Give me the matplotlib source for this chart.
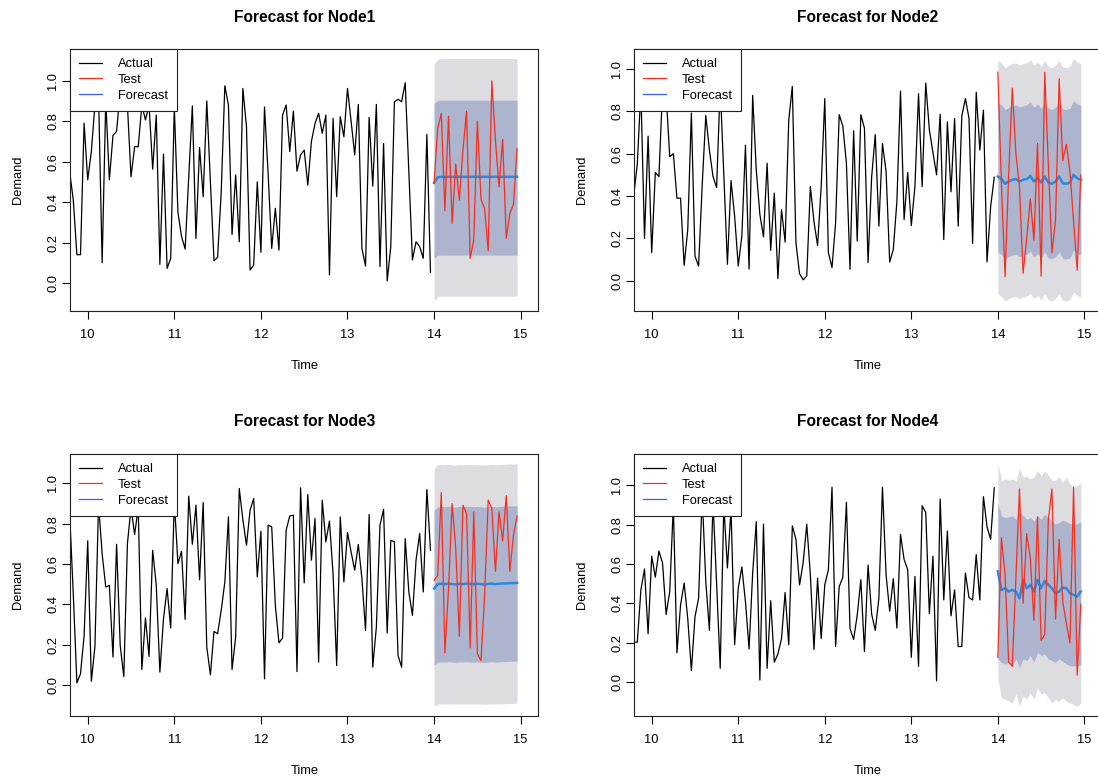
import numpy as np
import matplotlib
matplotlib.use("Agg")
import matplotlib.pyplot as plt
from matplotlib.lines import Line2D

plt.rcParams['font.family'] = ['Liberation Sans', 'DejaVu Sans']

# hourly-style series: 24 observations per time unit
freq = 24
hist_start = 10 - 5 / 24
test_start = 14

# ---- Node1 ----
node1_actual = [0.55, 0.41, 0.14, 0.14, 0.79, 0.51, 0.65, 0.88, 0.93, 0.10,
                0.90, 0.51, 0.73, 0.75, 0.95, 0.90, 0.88, 0.525, 0.674, 0.674,
                0.88, 0.806, 0.88, 0.563, 0.83, 0.092, 0.637, 0.072, 0.122, 0.87,
                0.35, 0.23, 0.168, 0.525, 0.876, 0.22, 0.67, 0.427, 0.90, 0.50,
                0.11, 0.127, 0.45, 0.975, 0.88, 0.24, 0.534, 0.204, 0.962, 0.773,
                0.064, 0.089, 0.50, 0.152, 0.87, 0.54, 0.171, 0.37, 0.163, 0.83,
                0.88, 0.65, 0.85, 0.553, 0.633, 0.657, 0.484, 0.70, 0.789, 0.839,
                0.74, 0.83, 0.04, 0.814, 0.427, 0.822, 0.723, 0.962, 0.80, 0.633,
                0.883, 0.171, 0.084, 0.819, 0.479, 0.883, 0.081, 0.69, 0.01, 0.18,
                0.896, 0.908, 0.896, 0.99, 0.55, 0.114, 0.204, 0.18, 0.122, 0.735,
                0.053]
node1_test = [0.493, 0.764, 0.839, 0.357, 0.825, 0.295, 0.588, 0.41, 0.657, 0.85,
              0.122, 0.213, 0.80, 0.413, 0.369, 0.16, 1.0, 0.707, 0.476, 0.71,
              0.221, 0.344, 0.389, 0.666]
node1_fc = [0.495, 0.523, 0.525, 0.524, 0.525, 0.525, 0.525, 0.525, 0.525, 0.525,
            0.525, 0.525, 0.525, 0.525, 0.525, 0.525, 0.525, 0.525, 0.525, 0.525,
            0.525, 0.525, 0.525, 0.525]
node1_lo95 = [-0.089, -0.066, -0.065, -0.066, -0.065, -0.065, -0.065, -0.065, -0.065, -0.065,
              -0.065, -0.065, -0.065, -0.065, -0.065, -0.065, -0.065, -0.065, -0.065, -0.065,
              -0.065, -0.065, -0.065, -0.065]
node1_lo80 = [0.122, 0.137, 0.138, 0.138, 0.138, 0.138, 0.138, 0.138, 0.138, 0.138,
              0.138, 0.138, 0.138, 0.138, 0.138, 0.138, 0.138, 0.138, 0.138, 0.138,
              0.138, 0.138, 0.138, 0.138]
node1_hi80 = [0.888, 0.903, 0.904, 0.904, 0.904, 0.904, 0.904, 0.904, 0.904, 0.904,
              0.904, 0.904, 0.904, 0.904, 0.904, 0.904, 0.904, 0.904, 0.904, 0.904,
              0.904, 0.904, 0.904, 0.904]
node1_hi95 = [1.082, 1.108, 1.109, 1.109, 1.109, 1.109, 1.109, 1.109, 1.109, 1.109,
              1.109, 1.109, 1.109, 1.109, 1.109, 1.109, 1.109, 1.109, 1.109, 1.109,
              1.109, 1.109, 1.109, 1.109]

# ---- Node2 ----
node2_actual = [0.40, 0.55, 0.90, 0.20, 0.683, 0.133, 0.511, 0.492, 0.90, 0.88,
                0.586, 0.60, 0.39, 0.39, 0.073, 0.242, 0.792, 0.117, 0.07, 0.45,
                0.78, 0.617, 0.492, 0.44, 0.92, 0.50, 0.078, 0.473, 0.305, 0.07,
                0.211, 0.64, 0.055, 0.875, 0.523, 0.313, 0.208, 0.555, 0.144, 0.414,
                0.011, 0.336, 0.183, 0.758, 0.917, 0.18, 0.034, 0.005, 0.023, 0.445,
                0.28, 0.167, 0.445, 0.86, 0.133, 0.063, 0.273, 0.784, 0.73, 0.555,
                0.055, 0.708, 0.188, 0.784, 0.72, 0.086, 0.49, 0.69, 0.258, 0.648,
                0.516, 0.089, 0.148, 0.375, 0.895, 0.289, 0.511, 0.261, 0.445, 0.883,
                0.445, 0.933, 0.714, 0.605, 0.50, 0.786, 0.195, 0.75, 0.42, 0.766,
                0.258, 0.777, 0.86, 0.766, 0.177, 0.89, 0.617, 0.805, 0.089, 0.35,
                0.489]
node2_test = [0.984, 0.45, 0.02, 0.5, 0.909, 0.60, 0.445, 0.036, 0.2, 0.386,
              0.192, 0.648, 0.023, 0.984, 0.547, 0.133, 0.289, 0.953, 0.567, 0.644,
              0.516, 0.281, 0.05, 0.50]
node2_fc = [0.492, 0.480, 0.458, 0.469, 0.477, 0.480, 0.469, 0.477, 0.480, 0.495,
            0.469, 0.484, 0.464, 0.492, 0.464, 0.458, 0.469, 0.492, 0.461, 0.458,
            0.464, 0.500, 0.484, 0.477]
node2_lo95 = [-0.061, -0.073, -0.095, -0.084, -0.076, -0.073, -0.084, -0.076, -0.073, -0.058,
              -0.084, -0.069, -0.089, -0.061, -0.089, -0.095, -0.084, -0.061, -0.092, -0.095,
              -0.089, -0.053, -0.069, -0.076]
node2_lo80 = [0.137, 0.125, 0.103, 0.114, 0.122, 0.125, 0.114, 0.122, 0.125, 0.140,
              0.114, 0.129, 0.109, 0.137, 0.109, 0.103, 0.114, 0.137, 0.106, 0.103,
              0.109, 0.145, 0.129, 0.122]
node2_hi80 = [0.842, 0.830, 0.808, 0.819, 0.827, 0.830, 0.819, 0.827, 0.830, 0.845,
              0.819, 0.834, 0.814, 0.842, 0.814, 0.808, 0.819, 0.842, 0.811, 0.808,
              0.814, 0.850, 0.834, 0.827]
node2_hi95 = [1.040, 1.028, 1.006, 1.017, 1.025, 1.028, 1.017, 1.025, 1.028, 1.043,
              1.017, 1.032, 1.012, 1.040, 1.012, 1.006, 1.017, 1.040, 1.009, 1.006,
              1.012, 1.048, 1.032, 1.025]

# ---- Node3 ----
node3_actual = [0.85, 0.45, 0.01, 0.055, 0.245, 0.715, 0.018, 0.19, 0.90, 0.65,
                0.486, 0.494, 0.138, 0.698, 0.196, 0.041, 0.70, 0.88, 0.746, 0.88,
                0.076, 0.332, 0.141, 0.668, 0.494, 0.063, 0.328, 0.478, 0.282, 0.914,
                0.602, 0.663, 0.325, 0.937, 0.698, 0.892, 0.522, 0.905, 0.187, 0.05,
                0.265, 0.254, 0.37, 0.51, 0.834, 0.076, 0.237, 0.975, 0.82, 0.693,
                0.867, 0.925, 0.536, 0.763, 0.03, 0.793, 0.784, 0.395, 0.209, 0.232,
                0.768, 0.839, 0.842, 0.066, 0.978, 0.506, 0.945, 0.619, 0.826, 0.113,
                0.917, 0.71, 0.813, 0.55, 0.096, 0.834, 0.511, 0.756, 0.66, 0.569,
                0.697, 0.527, 0.27, 0.846, 0.088, 0.287, 0.793, 0.871, 0.257, 0.718,
                0.71, 0.146, 0.088, 0.726, 0.461, 0.345, 0.619, 0.751, 0.461, 0.97,
                0.668]
node3_test = [0.519, 0.544, 0.955, 0.159, 0.478, 0.90, 0.677, 0.242, 0.892, 0.851,
              0.184, 0.859, 0.154, 0.121, 0.444, 0.917, 0.876, 0.564, 0.859, 0.715,
              0.939, 0.564, 0.743, 0.839]
node3_fc = [0.478, 0.500, 0.502, 0.500, 0.503, 0.500, 0.499, 0.502, 0.500, 0.503,
            0.501, 0.500, 0.502, 0.500, 0.498, 0.501, 0.503, 0.500, 0.502, 0.503,
            0.504, 0.505, 0.505, 0.506]
node3_lo95 = [-0.105, -0.095, -0.094, -0.095, -0.094, -0.095, -0.096, -0.094, -0.095, -0.094,
              -0.095, -0.095, -0.094, -0.095, -0.097, -0.095, -0.094, -0.095, -0.094, -0.094,
              -0.093, -0.092, -0.092, -0.091]
node3_lo80 = [0.096, 0.113, 0.114, 0.113, 0.115, 0.113, 0.112, 0.114, 0.113, 0.115,
              0.113, 0.113, 0.114, 0.113, 0.111, 0.113, 0.115, 0.113, 0.114, 0.115,
              0.116, 0.117, 0.117, 0.118]
node3_hi80 = [0.866, 0.884, 0.886, 0.884, 0.887, 0.884, 0.883, 0.886, 0.884, 0.887,
              0.885, 0.884, 0.886, 0.884, 0.882, 0.885, 0.887, 0.884, 0.886, 0.887,
              0.888, 0.889, 0.889, 0.890]
node3_hi95 = [1.072, 1.092, 1.094, 1.092, 1.095, 1.092, 1.091, 1.094, 1.092, 1.095,
              1.093, 1.092, 1.094, 1.092, 1.090, 1.093, 1.095, 1.092, 1.094, 1.095,
              1.096, 1.097, 1.097, 1.098]

# ---- Node4 ----
node4_actual = [0.202, 0.202, 0.468, 0.575, 0.245, 0.64, 0.533, 0.666, 0.606, 0.343,
                0.46, 0.90, 0.148, 0.391, 0.503, 0.322, 0.057, 0.331, 0.425, 0.95,
                0.511, 0.262, 0.92, 0.50, 0.069, 0.90, 0.58, 0.88, 0.189, 0.477,
                0.585, 0.408, 0.168, 0.554, 0.816, 0.009, 0.803, 0.069, 0.413, 0.10,
                0.142, 0.22, 0.455, 0.189, 0.794, 0.726, 0.494, 0.606, 0.803, 0.545,
                0.165, 0.528, 0.22, 0.494, 0.571, 0.991, 0.18, 0.485, 0.532, 0.914,
                0.271, 0.216, 0.34, 0.52, 0.154, 0.595, 0.345, 0.262, 0.425, 0.991,
                0.545, 0.36, 0.525, 0.274, 0.751, 0.623, 0.571, 0.125, 0.537, 0.079,
                0.897, 0.863, 0.348, 0.64, 0.005, 0.931, 0.417, 0.768, 0.336, 0.468,
                0.18, 0.18, 0.554, 0.429, 0.417, 0.648, 0.417, 0.943, 0.789, 0.726,
                0.988]
node4_test = [0.125, 0.734, 0.545, 0.10, 0.079, 0.528, 0.983, 0.40, 0.755, 0.631,
              0.314, 0.84, 0.211, 0.24, 0.823, 0.983, 0.319, 0.726, 0.408, 0.297,
              0.199, 0.991, 0.034, 0.395]
node4_fc = [0.563, 0.468, 0.477, 0.46, 0.468, 0.46, 0.425, 0.52, 0.477, 0.494,
            0.46, 0.52, 0.477, 0.514, 0.494, 0.477, 0.451, 0.46, 0.48, 0.477,
            0.451, 0.443, 0.434, 0.46]
node4_lo95 = [0.014, -0.081, -0.089, -0.098, -0.106, -0.063, -0.123, -0.072, -0.089, -0.055,
              -0.089, -0.029, -0.063, -0.055, -0.081, -0.106, -0.089, -0.098, -0.081, -0.098,
              -0.106, -0.115, -0.123, -0.106]
node4_lo80 = [0.117, 0.099, 0.091, 0.099, 0.082, 0.117, 0.074, 0.117, 0.108, 0.134,
              0.099, 0.151, 0.134, 0.142, 0.117, 0.108, 0.099, 0.117, 0.103, 0.091,
              0.082, 0.082, 0.082, 0.086]
node4_hi80 = [0.906, 0.846, 0.837, 0.84, 0.846, 0.828, 0.863, 0.846, 0.828, 0.837,
              0.82, 0.846, 0.828, 0.854, 0.837, 0.82, 0.803, 0.811, 0.823, 0.816,
              0.806, 0.803, 0.806, 0.816]
node4_hi95 = [1.111, 1.026, 1.034, 1.026, 1.034, 1.022, 1.086, 1.043, 1.046, 1.034,
              1.043, 1.077, 1.051, 1.074, 1.051, 1.026, 1.026, 1.043, 1.017, 1.043,
              1.009, 0.991, 1.0, 1.012]

nodes = [
    ("Node1", node1_actual, node1_test, node1_fc, node1_lo95, node1_lo80, node1_hi80, node1_hi95),
    ("Node2", node2_actual, node2_test, node2_fc, node2_lo95, node2_lo80, node2_hi80, node2_hi95),
    ("Node3", node3_actual, node3_test, node3_fc, node3_lo95, node3_lo80, node3_hi80, node3_hi95),
    ("Node4", node4_actual, node4_test, node4_fc, node4_lo95, node4_lo80, node4_hi80, node4_hi95),
]

col_actual = "black"
col_test = "#f52f1f"
col_fc = "#2a8ae0"
col_95 = "#dcdce1"
col_80 = "#adb4cd"

W, H = 1098, 781
fig = plt.figure(figsize=(W / 100, H / 100), dpi=100)

# panel rectangles in pixels: left, top, right, bottom
boxes = [(70.4, 49, 538.0, 310.7), (634.4, 49, 1101.7, 310.7),
         (70.4, 454, 538.0, 715.7), (634.4, 454, 1101.7, 715.7)]

for (name, actual, test, fc, lo95, lo80, hi80, hi95), (l, t, r, b) in zip(nodes, boxes):
    ax = fig.add_axes([l / W, 1 - b / H, (r - l) / W, (b - t) / H])
    pw, ph = r - l, b - t

    t_hist = hist_start + np.arange(len(actual)) / freq
    t_fc = test_start + np.arange(len(fc)) / freq

    ax.plot(t_hist, actual, color=col_actual, lw=0.9)
    ax.fill_between(t_fc, lo95, hi95, color=col_95, lw=0)
    ax.fill_between(t_fc, lo80, hi80, color=col_80, lw=0)
    ax.plot(t_fc, fc, color=col_fc, lw=1.8)
    ax.plot(t_fc, test, color=col_test, lw=0.9)

    ax.set_xlim(9.8, 15.2)
    ax.margins(y=0.04)
    ax.set_xticks([10, 11, 12, 13, 14, 15])
    ax.set_yticks([0.0, 0.2, 0.4, 0.6, 0.8, 1.0])
    ax.set_yticklabels(["0.0", "0.2", "0.4", "0.6", "0.8", "1.0"], rotation=90, va="center")
    ax.tick_params(axis="x", length=5.5, width=0.8, pad=7.5, labelsize=9.3)
    ax.tick_params(axis="y", length=5.5, width=0.8, pad=2.5, labelsize=9.3)
    for s in ax.spines.values():
        s.set_linewidth(0.8)
        s.set_color("#222222")

    ax.set_title("Forecast for " + name, fontsize=11.2, fontweight="bold",
                 y=1 + 32 / ph, va="center", pad=0)
    ax.set_xlabel("Time", fontsize=9.3, va="center")
    ax.xaxis.set_label_coords(0.5, -55 / ph)
    ax.set_ylabel("Demand", fontsize=9.3, va="center")
    ax.yaxis.set_label_coords(-52 / pw, 0.5)

    handles = [Line2D([], [], color=col_actual, lw=0.9),
               Line2D([], [], color=col_test, lw=0.9),
               Line2D([], [], color="#3a5cf5", lw=0.9)]
    leg = ax.legend(handles, ["Actual", "Test", "Forecast"], loc="upper left",
                    bbox_to_anchor=(0, 1), borderaxespad=0, fontsize=9.3,
                    fancybox=False, framealpha=1, edgecolor="#222222",
                    handlelength=1.75, handletextpad=1.2, borderpad=0.7,
                    labelspacing=0.3)
    leg.get_frame().set_linewidth(0.8)

fig.savefig("out.png", dpi=100)
